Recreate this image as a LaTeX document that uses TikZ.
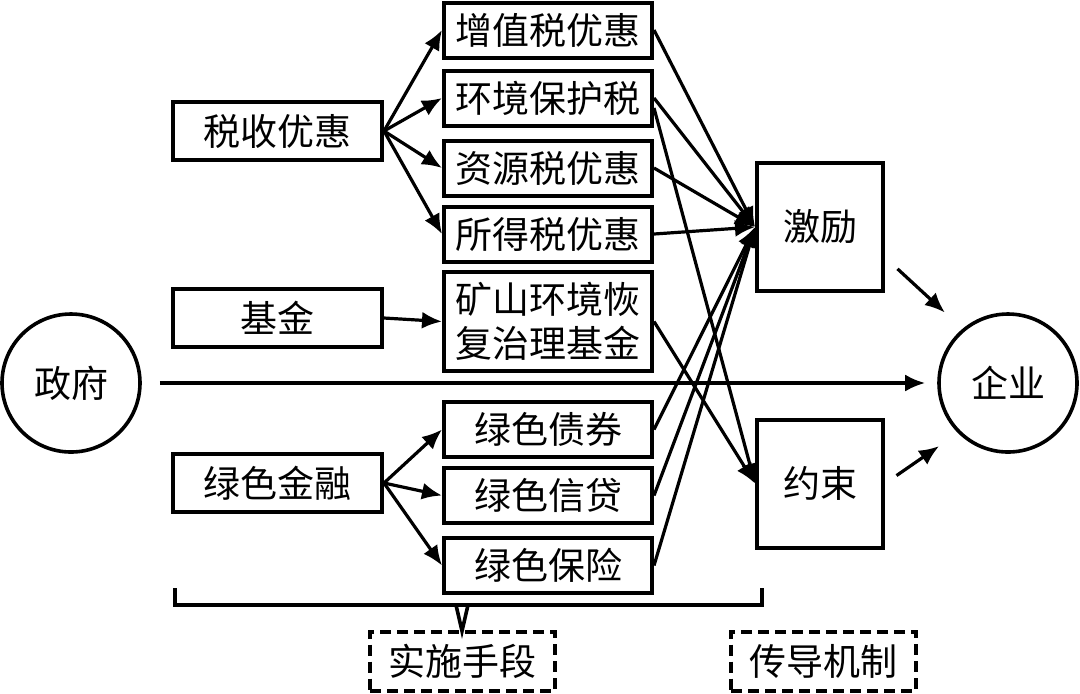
\documentclass[tikz,border=0pt]{standalone}
\usepackage{fontspec}
\setmainfont{Noto Sans CJK SC}
\usetikzlibrary{arrows.meta}

\begin{document}
\begin{tikzpicture}[x=0.5pt, y=-0.5pt, line width=1.6pt,
  >={Latex[length=10pt,width=8.5pt]},
  every node/.style={inner sep=0pt, font=\fontsize{18.5pt}{22pt}\selectfont},
  box/.style={draw, line width=2pt, minimum width=104pt, minimum height=27.5pt},
  lbox/.style={box, minimum width=104.5pt, minimum height=29pt},
  sqbox/.style={draw, line width=2pt, minimum width=63pt, minimum height=64pt},
  circ/.style={draw, circle, line width=1.8pt, minimum size=69pt},
  dbox/.style={draw, line width=2pt, dash pattern=on 5.5pt off 3pt, minimum width=92.5pt, minimum height=29.5pt}]

\useasboundingbox (0,0) rectangle (1080,693);

\node [circ] (zf)  at  (71, 383) {政府};
\node [circ] (qy)  at  (1008, 383) {企业};

\node [lbox] (sy)  at  (277.5, 131) {税收优惠};
\node [lbox] (jj)  at  (277.5, 318) {基金};
\node [lbox] (ls)  at  (277.5, 483) {绿色金融};

\node [box] (m1)  at  (548, 30) {增值税优惠};
\node [box] (m2)  at  (548, 98) {环境保护税};
\node [box] (m3)  at  (548, 168) {资源税优惠};
\node [box] (m4)  at  (548, 234) {所得税优惠};
\node [box, minimum height=49.5pt, align=center] (m5)  at  (548, 321.5) {矿山环境恢\\复治理基金};
\node [box] (m6)  at  (548, 429.5) {绿色债券};
\node [box] (m7)  at  (548, 495.5) {绿色信贷};
\node [box] (m8)  at  (548, 565.5) {绿色保险};

\node [sqbox] (jl)  at  (820, 227) {激励};
\node [sqbox] (ys)  at  (820, 483.5) {约束};

\node [dbox] (ss)  at  (462.5, 661) {实施手段};
\node [dbox] (cd)  at  (823.5, 661) {传导机制};

% left column to middle column
\draw   [->]   (sy.east) -- (m1.west);
\draw   [->]   (sy.east) -- (m2.west);
\draw   [->]   (sy.east) -- (m3.west);
\draw   [->]   (sy.east) -- (m4.west);
\draw   [->]   (jj.east) -- (m5.west);
\draw   [->]   (ls.east) -- (m6.west);
\draw   [->]   (ls.east) -- (m7.west);
\draw   [->]   (ls.east) -- (m8.west);

% middle column to mechanisms
\draw   [->]   (m1.east) -- (jl.west);
\draw   [->]   (m2.east) -- (jl.west);
\draw   [->]   ([yshift=-5pt]m2.east) -- (ys.west);
\draw   [->]   (m3.east) -- (jl.west);
\draw   [->]   (m4.east) -- (jl.west);
\draw   [->]   (m5.east) -- (ys.west);
\draw   [->]   (m6.east) -- (jl.west);
\draw   [->]   (m7.east) -- (jl.west);
\draw   [->]   (m8.east) -- (jl.west);

% mechanisms to enterprise
\draw   [->, shorten <=8.5pt, shorten >=12pt]   (jl.-25) -- (qy.130);
\draw   [->, shorten <=7pt, shorten >=11.5pt]   (ys.east) -- (qy.-135);
\draw   [->, shorten <=9pt, shorten >=6pt]   (zf.east) -- (qy.west);

% brace
\draw   [line width=1.8pt]   (175,588) -- (175,605) -- (762,605) -- (762,588);
\draw   [line width=1.8pt]   (456,605) -- (462,631) -- (468,605);

\end{tikzpicture}
\end{document}
